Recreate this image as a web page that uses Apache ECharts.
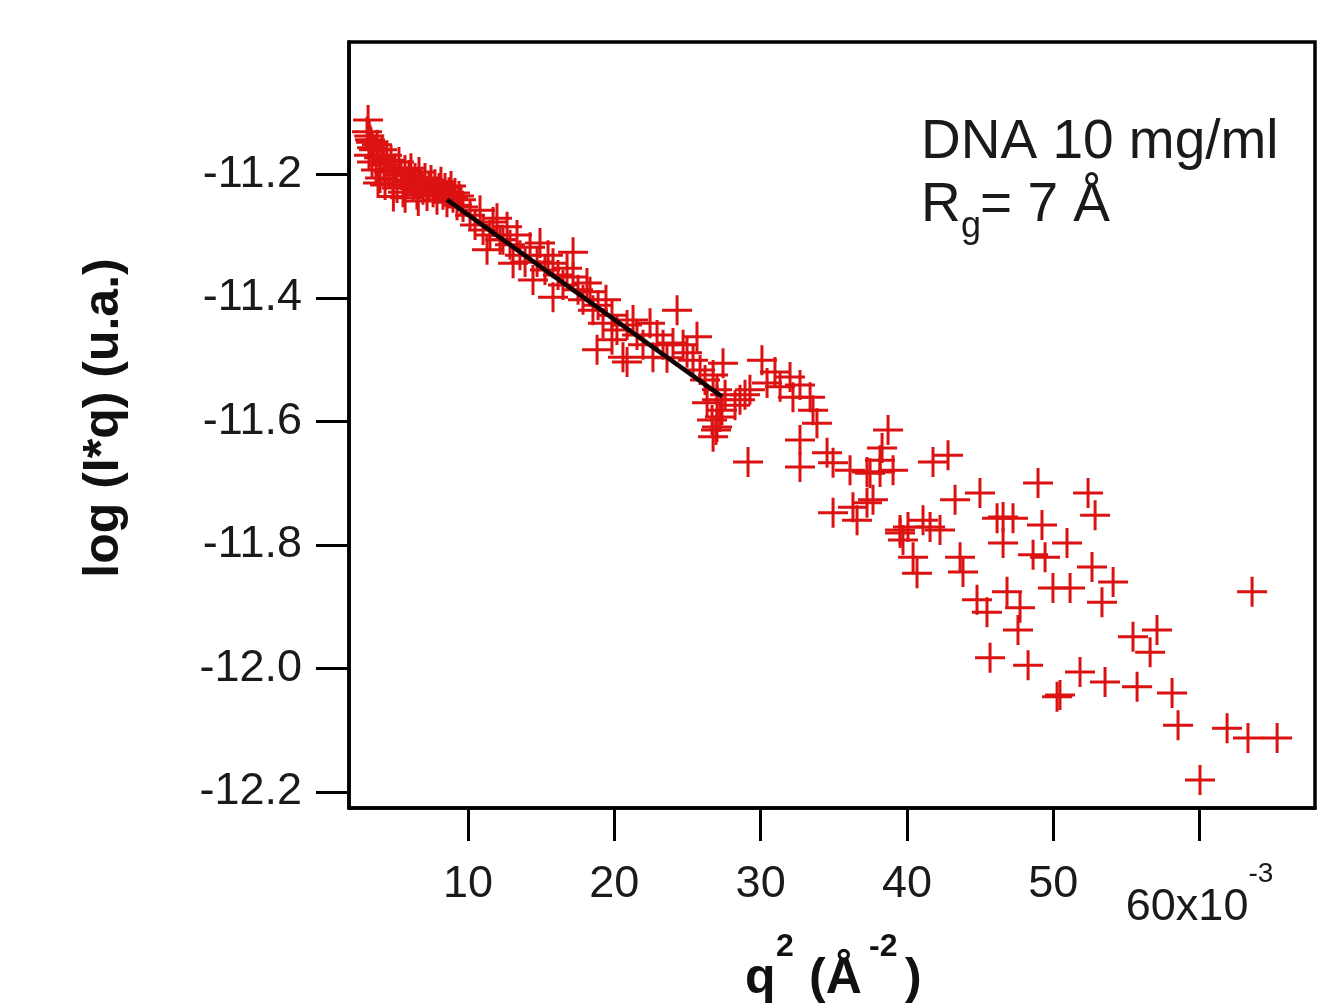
<!DOCTYPE html>
<html><head><meta charset="utf-8">
<script src="https://cdn.jsdelivr.net/npm/echarts@6/dist/echarts.min.js"></script>
<style>html,body{margin:0;padding:0;background:#fff}#c{width:1334px;height:1008px}</style>
</head><body><div id="c"></div>
<script>
// q^2 (x1e-3 Å^-2), log(I*q)
const lowQCluster = [[3.30,-11.144],[3.10,-11.131],[3.45,-11.157],[3.25,-11.138],[3.17,-11.112],[3.23,-11.169],[3.37,-11.148],[3.44,-11.180],[3.58,-11.160],[3.71,-11.193],[3.78,-11.152],[3.92,-11.173],[3.99,-11.206],[4.12,-11.160],[4.26,-11.185],[4.33,-11.217],[4.46,-11.169],[4.60,-11.196],[4.74,-11.177],[4.87,-11.209],[5.01,-11.190],[5.15,-11.222],[5.28,-11.180],[5.42,-11.201],[5.56,-11.229],[5.69,-11.193],[5.83,-11.212],[5.97,-11.201],[6.10,-11.190],[6.24,-11.217],[6.38,-11.206],[6.51,-11.233],[6.65,-11.196],[6.79,-11.216],[6.92,-11.225],[7.06,-11.206],[7.20,-11.235],[7.33,-11.219],[7.47,-11.209],[7.61,-11.229],[7.74,-11.216],[7.88,-11.241],[8.02,-11.222],[8.15,-11.212],[8.29,-11.233],[8.43,-11.222],[8.56,-11.245],[8.70,-11.229],[8.84,-11.219],[8.97,-11.238],[9.11,-11.230],[9.25,-11.250],[9.38,-11.235],[9.52,-11.241],[9.66,-11.253],[3.85,-11.214],[4.90,-11.236],[5.70,-11.238],[6.60,-11.243]];
const guinierRange = [[10.14,-11.266],[10.48,-11.282],[10.82,-11.258],[11.03,-11.290],[11.30,-11.322],[11.50,-11.298],[11.71,-11.277],[11.98,-11.271],[12.19,-11.306],[12.39,-11.306],[12.67,-11.285],[12.87,-11.314],[13.08,-11.344],[13.35,-11.298],[13.55,-11.331],[13.90,-11.342],[14.24,-11.318],[14.44,-11.371],[14.72,-11.342],[14.92,-11.311],[15.26,-11.355],[15.47,-11.331],[15.81,-11.344],[15.81,-11.399],[16.15,-11.363],[16.49,-11.379],[16.77,-11.352],[17.18,-11.326],[17.18,-11.366],[17.52,-11.387],[17.86,-11.403],[18.13,-11.376],[18.34,-11.390],[18.54,-11.420],[18.82,-11.484],[18.89,-11.412],[19.23,-11.441],[19.43,-11.403],[19.84,-11.428],[19.84,-11.468],[20.18,-11.452],[20.59,-11.496],[20.87,-11.444],[20.87,-11.504],[21.28,-11.436],[21.55,-11.460],[21.96,-11.476],[22.44,-11.441],[22.64,-11.496],[22.92,-11.460],[23.33,-11.476],[23.60,-11.497],[24.01,-11.473],[24.29,-11.420],[24.70,-11.476],[24.97,-11.489],[25.38,-11.501],[25.65,-11.463],[25.86,-11.517],[26.20,-11.533],[26.34,-11.570],[26.68,-11.598],[26.75,-11.525],[26.95,-11.614],[27.02,-11.549],[27.22,-11.593],[27.36,-11.582],[27.43,-11.506],[27.57,-11.557]];
const midQ = [[27.02,-11.565],[27.02,-11.609],[26.75,-11.625],[28.25,-11.574],[28.59,-11.565],[28.93,-11.557],[29.27,-11.549],[29.14,-11.666],[30.09,-11.501],[30.44,-11.538],[30.98,-11.520],[31.33,-11.544],[32.01,-11.528],[32.21,-11.561],[32.69,-11.541],[33.38,-11.561],[33.58,-11.582],[33.85,-11.603],[32.69,-11.630],[32.69,-11.674],[34.54,-11.651],[34.95,-11.667],[36.11,-11.679],[37.48,-11.684],[38.16,-11.663],[34.95,-11.748],[36.31,-11.739],[36.59,-11.760],[37.68,-11.727],[39.53,-11.776],[39.73,-11.792],[38.71,-11.614],[38.30,-11.643],[37.27,-11.682],[39.05,-11.679],[38.16,-11.682],[37.27,-11.732]];
const highQ = [[42.81,-11.655],[41.78,-11.666],[43.29,-11.727],[44.99,-11.716],[48.96,-11.700],[52.38,-11.716],[52.86,-11.752],[41.10,-11.760],[40.07,-11.771],[39.53,-11.781],[40.42,-11.820],[40.69,-11.846],[41.58,-11.771],[42.26,-11.776],[43.63,-11.820],[43.83,-11.844],[46.57,-11.755],[46.16,-11.757],[47.25,-11.757],[46.57,-11.797],[49.23,-11.768],[50.94,-11.797],[48.62,-11.816],[49.44,-11.820],[52.65,-11.836],[54.09,-11.860],[49.98,-11.870],[51.15,-11.870],[53.33,-11.893],[46.84,-11.876],[47.73,-11.902],[44.79,-11.889],[45.47,-11.909],[47.59,-11.938],[55.45,-11.949],[57.09,-11.938],[56.62,-11.974],[63.59,-11.876],[45.68,-11.983],[48.28,-11.995],[51.83,-12.006],[50.46,-12.043],[50.26,-12.046],[53.54,-12.022],[55.73,-12.030],[58.12,-12.040],[58.53,-12.092],[61.88,-12.097],[63.31,-12.113],[65.30,-12.113],[60.03,-12.181]];
const fitQ = [8.56, 27.36];
const fitLog = [-11.241, -11.560];
const xTickValues = [10, 20, 30, 40, 50, 60];
const yTickValues = [-12.2, -12.0, -11.8, -11.6, -11.4, -11.2];
const xRange = [1.866, 67.89];
const yRange = [-12.2262, -10.9856];

const FONT = "'Liberation Sans', Arial, sans-serif";
const chart = echarts.init(document.getElementById('c'), null, {renderer: 'canvas'});
const allPoints = [].concat(lowQCluster, guinierRange, midQ, highQ);
const cross = 'path://M-1,-0.1L-0.1,-0.1L-0.1,-1L0.1,-1L0.1,-0.1L1,-0.1L1,0.1L0.1,0.1L0.1,1L-0.1,1L-0.1,0.1L-1,0.1Z';
const txt = '#1a1a1a';

chart.setOption({
  animation: false,
  backgroundColor: '#fff',
  grid: {left: 349, right: 19, top: 42, bottom: 200, show: true, borderColor: '#000', borderWidth: 3.5, backgroundColor: 'transparent'},
  xAxis: {
    type: 'value', min: xRange[0], max: xRange[1],
    axisLine: {show: true, onZero: false, lineStyle: {color: '#000', width: 3.5}},
    axisTick: {show: true, inside: false, length: 33, customValues: xTickValues, lineStyle: {color: '#000', width: 3}},
    axisLabel: {
      customValues: xTickValues, margin: 52, color: txt, fontFamily: FONT, fontSize: 45,
      formatter: v => (Math.abs(v - 60) < 1e-6 ? '{b|60x10}{s|-3}' : '{a|' + Math.round(v) + '}'),
      rich: {
        a: {fontSize: 45, lineHeight: 50, color: txt, fontFamily: FONT},
        b: {fontSize: 45, verticalAlign: 'bottom', color: txt, fontFamily: FONT},
        s: {fontSize: 28, lineHeight: 70, verticalAlign: 'top', color: txt, fontFamily: FONT}
      }
    },
    splitLine: {show: false}
  },
  yAxis: {
    type: 'value', min: yRange[0], max: yRange[1],
    axisLine: {show: true, onZero: false, lineStyle: {color: '#000', width: 3.5}},
    axisTick: {show: true, inside: false, length: 33, customValues: yTickValues, lineStyle: {color: '#000', width: 3}},
    axisLabel: {customValues: yTickValues, margin: 47, color: txt, fontFamily: FONT, fontSize: 45,
      formatter: v => v.toFixed(1)},
    splitLine: {show: false}
  },
  graphic: [
    {type: 'text', x: 104, y: 418, rotation: Math.PI / 2,
      style: {text: 'log (I*q) (u.a.)', font: 'bold 50px ' + FONT, fill: '#111', align: 'center', verticalAlign: 'middle', textAlign: 'center', textVerticalAlign: 'middle'}},
    {type: 'text', x: 745, y: 979, style: {text: 'q', font: 'bold 50px ' + FONT, fill: '#111', verticalAlign: 'middle', textVerticalAlign: 'middle'}},
    {type: 'text', x: 776, y: 947, style: {text: '2', font: 'bold 32px ' + FONT, fill: '#111', verticalAlign: 'middle', textVerticalAlign: 'middle'}},
    {type: 'text', x: 809, y: 979, style: {text: '(Å', font: 'bold 50px ' + FONT, fill: '#111', verticalAlign: 'middle', textVerticalAlign: 'middle'}},
    {type: 'text', x: 869, y: 947, style: {text: '-2', font: 'bold 32px ' + FONT, fill: '#111', verticalAlign: 'middle', textVerticalAlign: 'middle'}},
    {type: 'text', x: 905, y: 979, style: {text: ')', font: 'bold 50px ' + FONT, fill: '#111', verticalAlign: 'middle', textVerticalAlign: 'middle'}},
    {type: 'text', x: 921, y: 143, style: {text: 'DNA 10 mg/ml', font: '55px ' + FONT, fill: txt, verticalAlign: 'middle', textVerticalAlign: 'middle'}},
    {type: 'text', x: 921, y: 206, style: {text: 'R', font: '55px ' + FONT, fill: txt, verticalAlign: 'middle', textVerticalAlign: 'middle'}},
    {type: 'text', x: 961, y: 227, style: {text: 'g', font: '36px ' + FONT, fill: txt, verticalAlign: 'middle', textVerticalAlign: 'middle'}},
    {type: 'text', x: 980, y: 206, style: {text: '= 7 Å', font: '55px ' + FONT, fill: txt, verticalAlign: 'middle', textVerticalAlign: 'middle'}}
  ],
  series: [
    {type: 'scatter', data: allPoints, symbol: cross, symbolSize: 30,
      itemStyle: {color: '#dc1212', opacity: 1}, z: 2},
    {type: 'line', data: fitQ.map((q, i) => [q, fitLog[i]]), symbol: 'none',
      lineStyle: {color: '#140000', width: 4.5}, z: 3}
  ]
});
</script>
</body></html>
